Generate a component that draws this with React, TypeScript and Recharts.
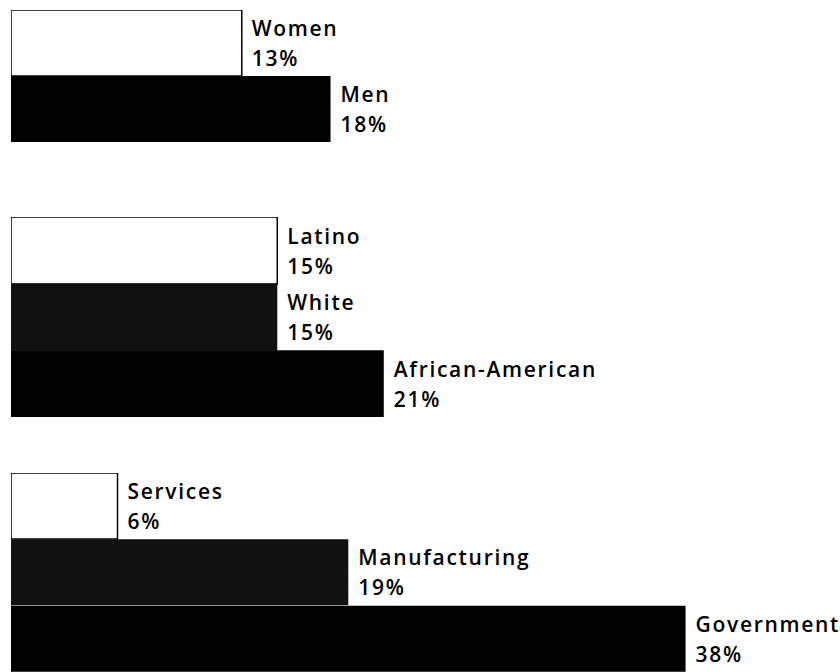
import { BarChart, Bar, XAxis, YAxis, Cell, LabelList } from 'recharts';

// share of workers, by group
const genderNames = ['Women', 'Men'];
const genderValues = [13, 18];

const raceNames = ['Latino', 'White', 'African-American'];
const raceValues = [15, 15, 21];

const sectorNames = ['Services', 'Manufacturing', 'Government'];
const sectorValues = [6, 19, 38];

const FONT = '"Open Sans", "DejaVu Sans", sans-serif';

interface GroupProps {
    names: string[];
    values: number[];
    fills: string[];
    top: number;
    height: number;
}

const Group = ({ names, values, fills, top, height }: GroupProps) => {
    const data = names.map((name, i) => ({ name, value: values[i] }));

    const renderLabel = (props: any) => {
        const { x, y, width, height: h, value, index } = props;
        const lx = Number(x) + Number(width) + 10;
        const cy = Number(y) + Number(h) / 2;
        const textStyle = { fontFamily: FONT, fontWeight: 600, fontSize: 21, letterSpacing: 1.7 };
        return (
            <g>
                <text x={lx} y={cy - 7} style={textStyle} fill="#000">
                    {names[index]}
                </text>
                <text x={lx} y={cy + 23} style={textStyle} fill="#000">
                    {value}%
                </text>
            </g>
        );
    };

    return (
        <div style={{ position: 'absolute', left: 11, top }}>
            <BarChart
                layout="vertical"
                width={829}
                height={height}
                data={data}
                margin={{ top: 0, right: 0, bottom: 0, left: 0 }}
                barCategoryGap={0}
            >
                <XAxis type="number" domain={[0, 46.7]} hide />
                <YAxis type="category" dataKey="name" hide />
                <Bar dataKey="value" isAnimationActive={false}>
                    {data.map((d, i) => (
                        <Cell
                            key={d.name}
                            fill={fills[i]}
                            stroke="#000"
                            strokeWidth={fills[i] === '#fff' ? 1.5 : 0}
                        />
                    ))}
                    <LabelList dataKey="value" content={renderLabel} />
                </Bar>
            </BarChart>
        </div>
    );
};

export default function App() {
    return (
        <div style={{ position: 'absolute', left: 0, top: 0, width: 840, height: 672, background: '#fff', overflow: 'hidden' }}>
            <Group names={genderNames} values={genderValues} fills={['#fff', '#000']} top={10} height={132} />
            <Group names={raceNames} values={raceValues} fills={['#fff', '#111', '#000']} top={217} height={200} />
            <Group names={sectorNames} values={sectorValues} fills={['#fff', '#111', '#000']} top={473} height={199} />
        </div>
    );
}
